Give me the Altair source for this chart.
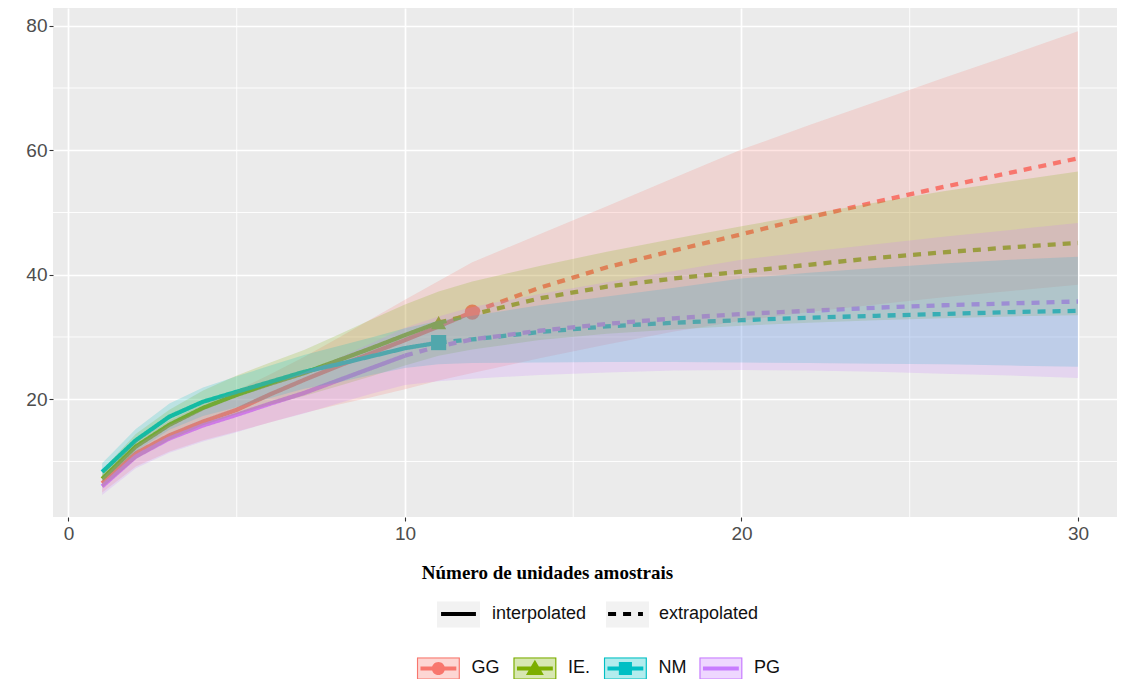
import altair as alt
import pandas as pd

SERIES = ["GG", "IE.", "NM", "PG"]
COLORS = ["#F8766D", "#7CAE00", "#00BFC4", "#C77CFF"]
METHODS = ["interpolated", "extrapolated"]

# sample-size knots per assemblage
GG_x = [1, 2, 3, 4, 5, 6, 7, 8, 9, 10, 11, 12, 14, 16, 18, 20, 22, 24, 26, 28, 30]
IE_x = [1, 2, 3, 4, 5, 6, 7, 8, 9, 10, 11, 12, 14, 16, 18, 20, 22, 24, 26, 28, 30]
NM_x = [1, 2, 3, 4, 5, 6, 7, 8, 9, 10, 11, 12, 14, 16, 18, 20, 22, 24, 26, 28, 30]
PG_x = [1, 2, 3, 4, 5, 6, 7, 8, 9, 10, 11, 12, 14, 16, 18, 20, 22, 24, 26, 28, 30]

# observed sample size (end of interpolation)
OBS = {"GG": 12, "IE.": 11, "NM": 11, "PG": 10}

GG_mean = [6.5, 11.3, 14.2, 16.4, 18.3, 20.8, 23.1, 25.3, 27.4, 29.5, 31.7, 34.0, 37.9, 41.2, 43.9, 46.5, 49.2, 51.7, 54.1, 56.4, 58.7]
GG_hi = [7.9, 13.2, 16.6, 19.2, 21.4, 24.0, 26.8, 29.8, 32.9, 36.0, 39.0, 42.0, 46.5, 51.0, 55.6, 60.1, 64.0, 67.8, 71.6, 75.3, 79.1]
GG_lo = [5.0, 9.2, 11.6, 13.4, 14.8, 16.3, 17.8, 19.1, 20.3, 21.6, 23.0, 24.2, 26.6, 28.8, 30.9, 32.6, 34.0, 35.2, 36.4, 37.4, 38.4]

IE_mean = [7.2, 12.4, 15.9, 18.6, 20.7, 22.5, 24.2, 26.2, 28.2, 30.3, 32.3, 33.6, 36.2, 38.1, 39.4, 40.5, 41.6, 42.7, 43.6, 44.4, 45.1]
IE_hi = [8.6, 14.4, 18.3, 21.4, 23.8, 25.9, 27.9, 30.3, 32.8, 35.2, 37.3, 38.9, 41.4, 43.7, 45.8, 47.8, 49.7, 51.6, 53.4, 55.0, 56.6]
IE_lo = [5.8, 10.4, 13.5, 15.8, 17.6, 19.1, 20.5, 22.1, 23.7, 25.4, 27.0, 28.0, 29.5, 30.5, 31.2, 31.8, 32.3, 32.7, 33.0, 33.3, 33.5]

NM_mean = [8.3, 13.4, 17.2, 19.6, 21.2, 22.8, 24.4, 25.6, 26.9, 28.2, 29.1, 29.6, 30.8, 31.7, 32.3, 32.7, 33.1, 33.4, 33.7, 34.0, 34.2]
NM_hi = [9.7, 15.2, 19.3, 21.9, 23.7, 25.4, 27.1, 28.5, 29.9, 31.4, 32.6, 33.4, 35.1, 36.5, 37.9, 39.4, 40.3, 41.1, 41.8, 42.4, 42.9]
NM_lo = [6.9, 11.6, 15.1, 17.3, 18.7, 20.2, 21.7, 22.7, 23.9, 25.0, 25.6, 25.8, 25.9, 26.0, 26.0, 25.9, 25.8, 25.7, 25.6, 25.4, 25.2]

PG_mean = [6.0, 10.8, 13.7, 15.8, 17.5, 19.3, 21.0, 23.0, 25.0, 27.0, 28.5, 29.6, 31.0, 32.1, 33.0, 33.7, 34.2, 34.7, 35.1, 35.4, 35.7]
PG_hi = [7.3, 12.5, 15.9, 18.3, 20.3, 22.3, 24.3, 26.6, 29.0, 31.5, 33.3, 34.8, 36.9, 38.8, 40.6, 42.4, 43.7, 44.9, 46.1, 47.2, 48.3]
PG_lo = [4.6, 8.9, 11.4, 13.2, 14.7, 16.3, 17.7, 19.3, 20.9, 22.3, 22.9, 23.3, 23.9, 24.3, 24.6, 24.7, 24.6, 24.4, 24.1, 23.8, 23.4]

# observed points (PG has no symbol in the original)
PT_series = ["GG", "IE.", "NM"]
PT_x = [12, 11, 11]
PT_y = [34.0, 32.3, 29.1]
PT_shape = {"GG": "circle", "IE.": "triangle-up", "NM": "square"}

X_TICKS = [0, 10, 20, 30]
Y_TICKS = [20, 40, 60, 80]
MINOR_X = [5, 15, 25]
MINOR_Y = [10, 30, 50, 70]

SER = {
    "GG": (GG_x, GG_mean, GG_lo, GG_hi),
    "IE.": (IE_x, IE_mean, IE_lo, IE_hi),
    "NM": (NM_x, NM_mean, NM_lo, NM_hi),
    "PG": (PG_x, PG_mean, PG_lo, PG_hi),
}

line_rows, rib_rows = [], []
for name, (xs, ms, los, his) in SER.items():
    obs = OBS[name]
    for x, m, lo, hi in zip(xs, ms, los, his):
        if x <= obs:
            line_rows.append({"Serie": name, "Metodo": "interpolated", "x": x, "y": m})
        if x >= obs:
            line_rows.append({"Serie": name, "Metodo": "extrapolated", "x": x, "y": m})
        rib_rows.append({"Grupo": name, "x": x, "lo": lo, "hi": hi})
lines_df = pd.DataFrame(line_rows)
rib_df = pd.DataFrame(rib_rows)
pts_df = pd.DataFrame({"Serie": PT_series, "x": PT_x, "y": PT_y})

xscale = alt.Scale(domain=[-0.46, 31.16], nice=False, zero=False)
yscale = alt.Scale(domain=[1.08, 82.85], nice=False, zero=False)
color_scale = alt.Scale(domain=SERIES, range=COLORS)

common_axis = dict(labelFont="Liberation Sans", labelFontSize=19, labelColor="#4D4D4D",
                   tickColor="#333333", tickSize=4, tickWidth=1.1, domain=False,
                   grid=True, gridColor="white", gridWidth=1.7, format="d")
x_axis = alt.Axis(values=X_TICKS, title="Número de unidades amostrais",
                  titleFont="Liberation Serif", titleFontWeight="bold", titleFontSize=19,
                  titleColor="black", titleX=494, titleY=55, titleBaseline="middle",
                  titleAlign="center", labelPadding=3, **common_axis)
y_axis = alt.Axis(values=Y_TICKS, title=None, labelPadding=2, **common_axis)

# legend symbol paths (unit square -1..1 scaled by sqrt(size)/2 = 16px)
S_BOX = "M-1.34,-0.69H1.34V0.69H-1.34Z"
FRAME = "M-1.34,-0.69H1.34V0.69H-1.34Z M-1.27,-0.62V0.62H1.27V-0.62Z "
BAR = "M-1.12,-0.125H1.12V0.125H-1.12Z"
CIRC = " M-0.41,0A0.41,0.41 0 1 1 0.41,0A0.41,0.41 0 1 1 -0.41,0Z"
TRI = " M0,-0.55L0.56,0.4H-0.56Z"
SQR = " M-0.41,-0.41H0.41V0.41H-0.41Z"
KEY_PATHS = [FRAME + BAR + CIRC, FRAME + BAR + TRI, FRAME + BAR + SQR, FRAME + BAR]
LT_BOX = "M-1.22,-0.69H1.22V0.69H-1.22Z"   # plus a 4px same-colour outline
LT_LINE = "M-1.09,0H1.09"

leg_base = dict(title=None, orient="none", direction="horizontal", symbolSize=1024,
                labelFont="Liberation Sans", labelFontSize=18, labelColor="#111111", padding=0)
ser_common = dict(labelOffset=17, columnPadding=12.5, legendX=369.4, legendY=644, **leg_base)
lt_common = dict(labelOffset=15.5, columnPadding=13, legendX=387.5, legendY=588,
                 symbolStrokeWidth=4, **leg_base)

# series legend: coloured frame + line + marker (drawn on top)
L_SER = alt.Legend(zindex=2, symbolOpacity=1, symbolStrokeWidth=0, **ser_common)
# series legend: translucent key fill (drawn below)
L_BOX = alt.Legend(zindex=1, labelOpacity=0, symbolType=S_BOX, symbolOpacity=0.3,
                   symbolStrokeWidth=0, **ser_common)
# linetype legend: line samples on top
L_LT = alt.Legend(zindex=2, symbolType=LT_LINE, symbolStrokeColor="black", symbolOpacity=1,
                  **lt_common)
# linetype legend: grey key boxes below
L_LTBOX = alt.Legend(zindex=1, labelOpacity=0, symbolType=LT_BOX, symbolOpacity=1,
                     symbolStrokeColor="#F2F2F2", **lt_common)

X = alt.X("x:Q", scale=xscale, axis=x_axis)
Y = alt.Y("y:Q", scale=yscale, axis=y_axis)

minor_x = alt.Chart(pd.DataFrame({"v": MINOR_X})).mark_rule(color="white", strokeWidth=0.9).encode(
    x=alt.X("v:Q", scale=xscale, axis=x_axis))
minor_y = alt.Chart(pd.DataFrame({"v": MINOR_Y})).mark_rule(color="white", strokeWidth=0.9).encode(
    y=alt.Y("v:Q", scale=yscale, axis=y_axis))

lines = alt.Chart(lines_df).mark_line(strokeWidth=4.3, strokeCap="butt").encode(
    x=X, y=Y,
    stroke=alt.Stroke("Serie:N", scale=alt.Scale(range=COLORS), legend=None),
    strokeDash=alt.StrokeDash("Metodo:N", scale=alt.Scale(domain=METHODS, range=[[1, 0], [8, 7]]),
                              legend=L_LT),
)

point_layers = []
for s in PT_series:
    point_layers.append(
        alt.Chart(pts_df).transform_filter(alt.datum.Serie == s)
        .mark_point(filled=True, size=230, opacity=1, shape=PT_shape[s])
        .encode(x=X, y=Y, color=alt.Color("Serie:N", scale=color_scale, legend=L_SER))
    )

# legend-only layers (invisible marks)
key_series = alt.Chart(pts_df).mark_point(filled=True, opacity=0).encode(
    x=X, y=Y,
    color=alt.Color("Serie:N", scale=color_scale, legend=L_SER),
    shape=alt.Shape("Serie:N", scale=alt.Scale(domain=SERIES, range=KEY_PATHS), legend=L_SER),
)
key_lt = alt.Chart(lines_df).mark_point(filled=True, opacity=0).encode(
    x=X, y=Y,
    fill=alt.Fill("Metodo:N", sort=METHODS, scale=alt.Scale(range=["#F2F2F2", "#F2F2F2"]),
                  legend=L_LTBOX),
)

ribbons = alt.Chart(rib_df).mark_area(opacity=0.2, strokeWidth=0).encode(
    x=X,
    y=alt.Y("lo:Q", scale=yscale, axis=y_axis),
    y2="hi:Q",
    fill=alt.Fill("Grupo:N", scale=alt.Scale(range=COLORS), legend=L_BOX),
)

chart = alt.layer(minor_x, minor_y, lines, *point_layers, key_series, key_lt, ribbons).resolve_scale(
    fill="independent"
).properties(
    width=1064, height=509,
    autosize=alt.AutoSizeParams(type="none"),
    padding={"left": 45, "top": 0, "right": 0, "bottom": 162},
).configure_view(fill="#EBEBEB", strokeWidth=0)

chart.save("out.html", embed_options={"renderer": "svg", "actions": False})
